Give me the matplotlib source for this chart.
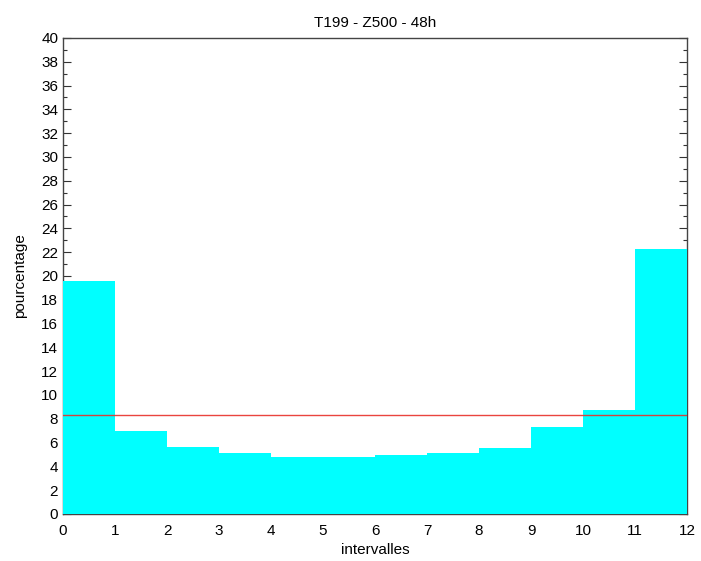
import matplotlib

matplotlib.use("Agg")
import matplotlib.pyplot as plt
from matplotlib.ticker import MultipleLocator

# rank histogram values (%) for intervals 0..11
intervals = list(range(12))
pourcentage = [19.6, 6.95, 5.6, 5.13, 4.76, 4.76, 4.93, 5.13, 5.52, 7.31, 8.74, 22.24]
reference = 100.0 / 12

plt.rcParams["font.family"] = ["Liberation Sans", "DejaVu Sans"]

fig = plt.figure(figsize=(7.01, 5.61), dpi=100)
ax = fig.add_axes([0.0899, 0.0838, 0.8903, 0.8485])

# bars sit over the frame, like the original gnuplot output
ax.bar(intervals, pourcentage, width=1.0, align="edge", color="#00ffff", linewidth=0, zorder=3)
ax.axhline(reference, color="#e8302a", linewidth=1.0, alpha=0.9, zorder=4)

ax.set_xlim(0, 12)
ax.set_ylim(0, 40)
ax.xaxis.set_major_locator(MultipleLocator(1))
ax.yaxis.set_major_locator(MultipleLocator(2))
ax.yaxis.set_minor_locator(MultipleLocator(1))
ax.tick_params(axis="y", which="both", direction="in", right=True, labelsize=11, width=0.8, color="#333333")
ax.tick_params(axis="y", which="major", length=6)
ax.tick_params(axis="y", which="minor", length=3)
ax.tick_params(axis="x", length=0, labelsize=11, pad=7)
for spine in ax.spines.values():
    spine.set_linewidth(1.0)
    spine.set_color("#444444")

ax.set_title("T199 - Z500 - 48h", fontsize=11, pad=8)
ax.set_xlabel("intervalles", fontsize=11, labelpad=4)
ax.set_ylabel("pourcentage", fontsize=11, labelpad=10)

fig.savefig("out.png", dpi=100)
plt.close(fig)
